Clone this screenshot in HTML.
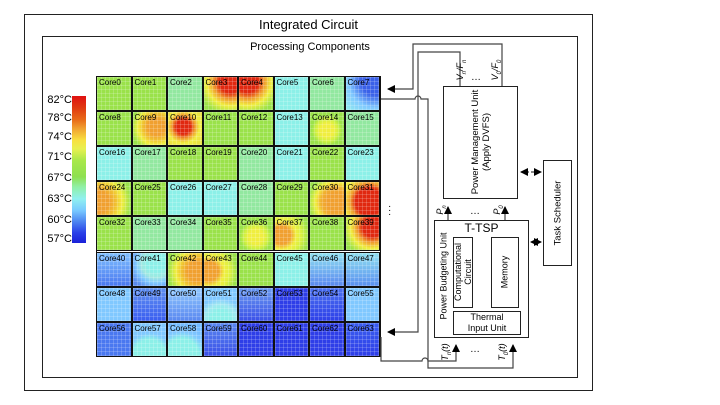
<!DOCTYPE html>
<html><head><meta charset="utf-8"><style>
*{margin:0;padding:0;box-sizing:border-box}
body{width:720px;height:405px;background:#fff;position:relative;overflow:hidden;font-family:"Liberation Sans",sans-serif;color:#000}
.a{position:absolute}
.box{position:absolute;border:1.5px solid #222;background:#fff}
.cell{position:absolute;width:35.5px;height:35.1px;border:1px solid #111;font-size:8px;padding:1px 0 0 2px;line-height:9px}
.cell::after{content:"";position:absolute;inset:0;background:repeating-linear-gradient(90deg,rgba(255,255,255,.18) 0 1px,transparent 1px 4px),repeating-linear-gradient(0deg,rgba(255,255,255,.18) 0 1px,transparent 1px 4px)}
.rot{position:absolute;transform:translate(-50%,-50%) rotate(-90deg);white-space:nowrap;text-align:center;font-size:9px;line-height:11px}
.lab{position:absolute;font-size:11px;right:648px;text-align:right}
</style></head><body>
<div class="box" style="left:24px;top:14px;width:569px;height:377px"></div>
<div class="a" style="left:24px;width:569px;top:17px;text-align:center;font-size:13px">Integrated Circuit</div>
<div class="box" style="left:42px;top:36px;width:536px;height:342px"></div>
<div class="a" style="left:42px;width:536px;top:41px;text-align:center;font-size:11px">Processing Components</div>

<div class="a" style="left:72px;top:96px;width:14px;height:147px;background:linear-gradient(#e01010 0%,#e03a10 8%,#e86a18 16%,#f0a030 22%,#f8e040 30%,#e8f050 36%,#a8e84a 44%,#8ee050 55%,#90f0a8 62%,#90f0f0 70%,#78c8ff 78%,#4a80f0 86%,#2a40e8 93%,#1a20d8 100%)"></div>
<div class="lab" style="top:94px">82°C</div>
<div class="lab" style="top:112px">78°C</div>
<div class="lab" style="top:131px">74°C</div>
<div class="lab" style="top:151px">71°C</div>
<div class="lab" style="top:172px">67°C</div>
<div class="lab" style="top:193px">63°C</div>
<div class="lab" style="top:214px">60°C</div>
<div class="lab" style="top:233px">57°C</div>

<div id="g"></div>
<script>
var G="#9ae24a",C="#8cf0e8",L="#80c8ff",B="#4a78f0",D="#2e3ee8",Y="#f0ee40",O="#f0a030",R="#e02810",GC="#92e8a0";
function rg(pos,c1,c2,c3,base){return "radial-gradient(circle at "+pos+","+c1+" 0 28%,"+c2+" 45%,"+c3+" 62%,"+base+" 85%)";}
var cells=[
G,G,GC,rg("80% 15%",R,O,Y,G),rg("25% 15%",R,O,Y,G),C,GC,"radial-gradient(circle at 90% 10%,#3a60e8 0 35%,#80c8ff 65%,#90e8f0 95%)",
G,rg("70% 45%",O,"#f0c030",Y,G),rg("45% 45%",R,O,Y,"#e8e040"),G,G,C,rg("50% 55%",Y,"#d0f040",G,G),GC,
C,GC,G,G,GC,C,G,C,
rg("5% 60%",O,"#f0c030",Y,G),G,C,C,GC,G,rg("75% 60%",O,"#f0b030",Y,G),rg("70% 60%",R,R,O,Y),
G,GC,GC,G,rg("50% 60%",Y,"#d0f040",G,G),rg("20% 55%",O,Y,"#d8f040",G),G,rg("80% 30%",R,O,Y,G),
"linear-gradient(#80c0ff,#4a78f0)",rg("70% 30%",C,"#a0e8e0",L,"#5a8af0"),rg("85% 55%",O,"#f0c030",Y,G),rg("15% 55%",O,Y,"#e0f040",G),G,C,"linear-gradient(#90e0f0,#5a88f0)","linear-gradient(#90e0f0,#5a90f0)",
L,"linear-gradient(#6090f0,#3a5ef0)","linear-gradient(#90c8ff,#5a88f0)",rg("50% 100%",C,"#a0e8f0",L,L),"linear-gradient(#6a9af0,#3a50e8)",D,"linear-gradient(#4a70f0,#2e40e8)",L,
B,rg("50% 100%",C,C,L,L),rg("40% 100%",C,C,L,"#70b8ff"),"linear-gradient(#5a88f0,#3a50e8)",D,D,D,"linear-gradient(#3a5ef0,#2e3ee8)"];
var h="";
for(var i=0;i<64;i++){var r=Math.floor(i/8),c=i%8;var bg=cells[i];
h+='<div class="cell" style="left:'+(96+c*35.5)+'px;top:'+(76+r*35.1)+'px;background:'+bg+'"><span style="position:relative;z-index:1">Core'+i+'</span></div>';}
document.getElementById("g").outerHTML=h;
</script>
<div class="a" style="left:96px;top:76px;width:285px;height:281px;border:1.5px solid #111"></div>

<svg class="a" style="left:0;top:0" width="720" height="405">
<defs><marker id="ar" markerWidth="8" markerHeight="8" refX="7" refY="4" orient="auto-start-reverse" markerUnits="userSpaceOnUse"><path d="M0,0 L8,4 L0,8z" fill="#000"/></marker></defs>
<g fill="none" stroke="#444" stroke-width="1.2">
<path d="M502,86 V44 H413 V89 H388" marker-end="url(#ar)"/>
<path d="M460,86 V52 H418 V332 H388" marker-end="url(#ar)"/>
<path d="M381,99 H415 A3,3 0 0 1 421,99 H428 V368 H513 V345" marker-end="url(#ar)"/>
<path d="M381,337 V361 H422 A3,3 0 0 1 428,361 H456 V345" marker-end="url(#ar)"/>
<path d="M448,220 V207" marker-end="url(#ar)"/>
<path d="M505,220 V207" marker-end="url(#ar)"/>
<path d="M521,172 H541" stroke-dasharray="3,2" marker-end="url(#ar)" marker-start="url(#ar)"/>
<path d="M531,242 H541" marker-end="url(#ar)" marker-start="url(#ar)"/>
</g>
</svg>
<div class="a" style="left:388px;top:205px;font-size:10px;line-height:4px">·<br>·<br>·</div>

<div class="box" style="left:443px;top:86px;width:75px;height:113px"></div>
<div class="rot" style="left:481px;top:142px;font-size:9.5px">Power Management Unit<br>(Apply DVFS)</div>
<div class="rot" style="left:463px;top:70px;font-size:9px"><i>V<sub style="font-size:6px">n</sub>/F<sub style="font-size:6px">n</sub></i></div>
<div class="rot" style="left:498px;top:70px;font-size:9px"><i>V<sub style="font-size:6px">0</sub>/F<sub style="font-size:6px">0</sub></i></div>
<div class="a" style="left:471px;top:72px;font-size:10px">…</div>

<div class="box" style="left:543px;top:160px;width:29px;height:106px"></div>
<div class="rot" style="left:558px;top:213px;font-size:9.5px">Task Scheduler</div>

<div class="rot" style="left:443px;top:210px"><i>P<sub style="font-size:6px">n</sub></i></div>
<div class="rot" style="left:500px;top:210px"><i>P<sub style="font-size:6px">0</sub></i></div>
<div class="a" style="left:470px;top:206px;font-size:10px">…</div>

<div class="box" style="left:434px;top:220px;width:95px;height:118px"></div>
<div class="a" style="left:434px;width:95px;top:221px;text-align:center;font-size:12px">T-TSP</div>
<div class="rot" style="left:444px;top:276px;font-size:9px">Power Budgeting Unit</div>
<div class="box" style="left:453px;top:237px;width:20px;height:71px"></div>
<div class="rot" style="left:463px;top:272px;font-size:9px;line-height:10px">Computational<br>Circuit</div>
<div class="box" style="left:491px;top:237px;width:28px;height:71px"></div>
<div class="rot" style="left:505px;top:272px;font-size:9px">Memory</div>
<div class="box" style="left:453px;top:311px;width:68px;height:24px"></div>
<div class="a" style="left:453px;width:68px;top:312px;text-align:center;font-size:9px;line-height:11px">Thermal<br>Input Unit</div>

<div class="rot" style="left:448px;top:352px"><i>T<sub style="font-size:6px">n</sub>(t)</i></div>
<div class="rot" style="left:505px;top:352px"><i>T<sub style="font-size:6px">0</sub>(t)</i></div>
<div class="a" style="left:470px;top:344px;font-size:10px">…</div>
</body></html>
